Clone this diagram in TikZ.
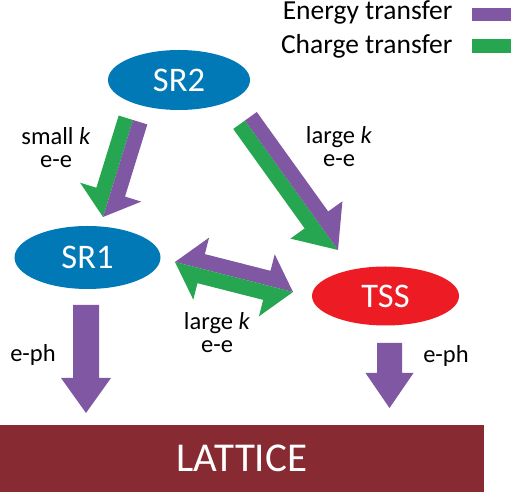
\documentclass[tikz,border=0pt]{standalone}
\usepackage{fontspec}
\setmainfont{Carlito}
\usetikzlibrary{calc,shapes.geometric}

\definecolor{srblue}{RGB}{0,121,182}
\definecolor{tssred}{RGB}{237,28,36}
\definecolor{latred}{RGB}{136,42,50}
\definecolor{enpurple}{RGB}{127,87,163}
\definecolor{chgreen}{RGB}{38,166,80}

% One side of a block arrow from #2 to tip #3:
% #1 fill, #4/#5 side angle and its negative, #6 shaft half-width,
% #7 head half-width, #8 head length
\newcommand\halfarrow[8]{%
  \coordinate (hb) at ($(#3)!#8!(#2)$);
  \fill[#1] (#2) -- ($(#2)!#6!#4:(#3)$) -- ($(hb)!#6!#5:(#2)$)
    -- ($(hb)!#7!#5:(#2)$) -- (#3) -- cycle;}

% One side of a double-headed block arrow between #2 and #3
\newcommand\halfdouble[8]{%
  \coordinate (hl) at ($(#2)!#8!(#3)$);
  \coordinate (hr) at ($(#3)!#8!(#2)$);
  \fill[#1] (#2) -- ($(hl)!#7!#4:(#3)$) -- ($(hl)!#6!#4:(#3)$)
    -- ($(hr)!#6!#5:(#2)$) -- ($(hr)!#7!#5:(#2)$) -- (#3) -- cycle;}

% Plain single-colour block arrow
\newcommand\blockarrow[5]{%
  \coordinate (hb) at ($(#3)!#5!(#2)$);
  \fill[#1] ($(#2)!#4!90:(#3)$) -- ($(hb)!#4!-90:(#2)$)
    -- ($(hb)!2*#4-1pt!-90:(#2)$) -- (#3) -- ($(hb)!2*#4-1pt!90:(#2)$)
    -- ($(hb)!#4!90:(#2)$) -- ($(#2)!#4!-90:(#3)$) -- cycle;}

\tikzset{
  state/.style={ellipse, fill=#1, text=white, inner sep=0pt,
    font=\fontsize{34.5}{34.5}\selectfont},
  lbl/.style={align=center, font=\fontsize{24.5}{23}\selectfont},
  legend/.style={font=\fontsize{27.5}{28}\selectfont, anchor=base east},
}

\begin{document}
\begin{tikzpicture}[x=1pt,y=1pt]
\useasboundingbox (0,0) rectangle (511,492);

% states
\node[state=srblue, minimum width=142pt, minimum height=60pt] (SR2) at (179,412) {SR2};
\node[state=srblue, minimum width=146pt, minimum height=63pt] (SR1) at (87.5,234.5) {SR1};
\node[state=tssred, minimum width=147pt, minimum height=59pt] (TSS) at (385.5,196) {TSS};
\node[fill=latred, text=white, minimum width=484pt, minimum height=67pt,
  inner sep=0pt, font=\fontsize{41}{41}\selectfont] (LAT) at (242,33.5) {LATTICE};

% connector ends
\coordinate (a1s) at (133,372);   \coordinate (a1e) at (103,275);
\coordinate (a2s) at (245,371.5); \coordinate (a2e) at (338,242);
\coordinate (a3l) at (175,230);   \coordinate (a3r) at (293,200);
\coordinate (a4s) at (86,187);    \coordinate (a4e) at (86,79);
\coordinate (a5s) at (389.5,149); \coordinate (a5e) at (389.5,84);

% SR2 -> SR1 (small k)
\halfarrow{chgreen}{a1s}{a1e}{-90}{90}{15pt}{32pt}{26pt}
\halfarrow{enpurple}{a1s}{a1e}{90}{-90}{15pt}{32pt}{26pt}
% SR2 -> TSS (large k)
\halfarrow{chgreen}{a2s}{a2e}{-90}{90}{14.5pt}{32pt}{37pt}
\halfarrow{enpurple}{a2s}{a2e}{90}{-90}{14.5pt}{32pt}{37pt}
% SR1 <-> TSS
\halfdouble{enpurple}{a3l}{a3r}{90}{-90}{15pt}{32pt}{27pt}
\halfdouble{chgreen}{a3l}{a3r}{-90}{90}{15pt}{32pt}{27pt}
% relaxation to the lattice
\blockarrow{enpurple}{a4s}{a4e}{13pt}{35pt}
\blockarrow{enpurple}{a5s}{a5e}{12.5pt}{35pt}

% labels
\node[lbl] (l1) at (56,344) {small \textit{k}\\e-e};
\node[lbl] (l2) at (339,345) {large \textit{k}\\e-e};
\node[lbl] (l3) at (217,159) {large \textit{k}\\e-e};
\node[lbl, anchor=base] (l4) at (33,130) {e-ph};
\node[lbl, anchor=base] (l5) at (446,129) {e-ph};

% legend
\node[legend] (len) at (456,472) {Energy transfer};
\node[legend] (lch) at (456,438) {Charge transfer};
\fill[enpurple] (472,471) rectangle (511,484);
\fill[chgreen] (472,439) rectangle (511,453);
\end{tikzpicture}
\end{document}
